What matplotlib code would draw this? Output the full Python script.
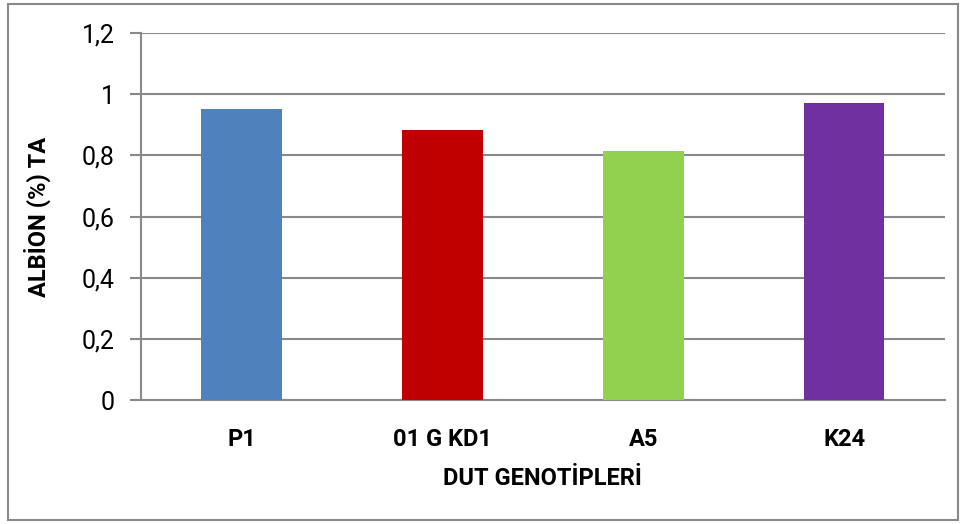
import numpy as np
import matplotlib.pyplot as plt
from matplotlib.patches import Rectangle

# 数据
genotypes = ['P1', '01 G KD1', 'A5', 'K24']
albion_ta = [0.951, 0.883, 0.814, 0.971]
bar_colors = ['#4f81bd', '#c00000', '#92d050', '#7030a0']
yticks = [0, 0.2, 0.4, 0.6, 0.8, 1.0, 1.2]
ytick_labels = ['0', '0,2', '0,4', '0,6', '0,8', '1', '1,2']

plt.rcParams['font.family'] = ['Roboto', 'DejaVu Sans']

fig = plt.figure(figsize=(9.64, 5.24), dpi=100)
ax = fig.add_axes([0.1463, 0.2366, 0.8337, 0.7004])

x = np.arange(len(genotypes))
ax.bar(x, albion_ta, width=0.4, color=bar_colors, zorder=3)

ax.set_xlim(-0.5, 3.5)
ax.set_ylim(0, 1.2)
ax.set_yticks(yticks)
ax.set_yticklabels(ytick_labels, fontsize=18)
ax.set_xticks(x)
ax.set_xticklabels(genotypes, fontsize=17, fontweight='bold')
ax.tick_params(axis='x', length=0, pad=20)
ax.tick_params(axis='y', length=8, width=1.5, color='#898989', pad=11)
ax.grid(axis='y', color='#898989', linewidth=1.5, zorder=0)

for s in ['top', 'right']:
    ax.spines[s].set_visible(False)
for s in ['left', 'bottom']:
    ax.spines[s].set_color('#898989')
    ax.spines[s].set_linewidth(1.5)

ax.set_ylabel('ALBİON (%) TA', fontsize=17, fontweight='bold', labelpad=22)
ax.set_xlabel('DUT GENOTİPLERİ', fontsize=17, fontweight='bold', labelpad=12)

# 外框
fig.patches.append(Rectangle((8 / 964, 4 / 524), 950 / 964, 516 / 524,
                             transform=fig.transFigure, fill=False,
                             edgecolor='#898989', linewidth=1.5))

fig.savefig('out.png', dpi=100)
